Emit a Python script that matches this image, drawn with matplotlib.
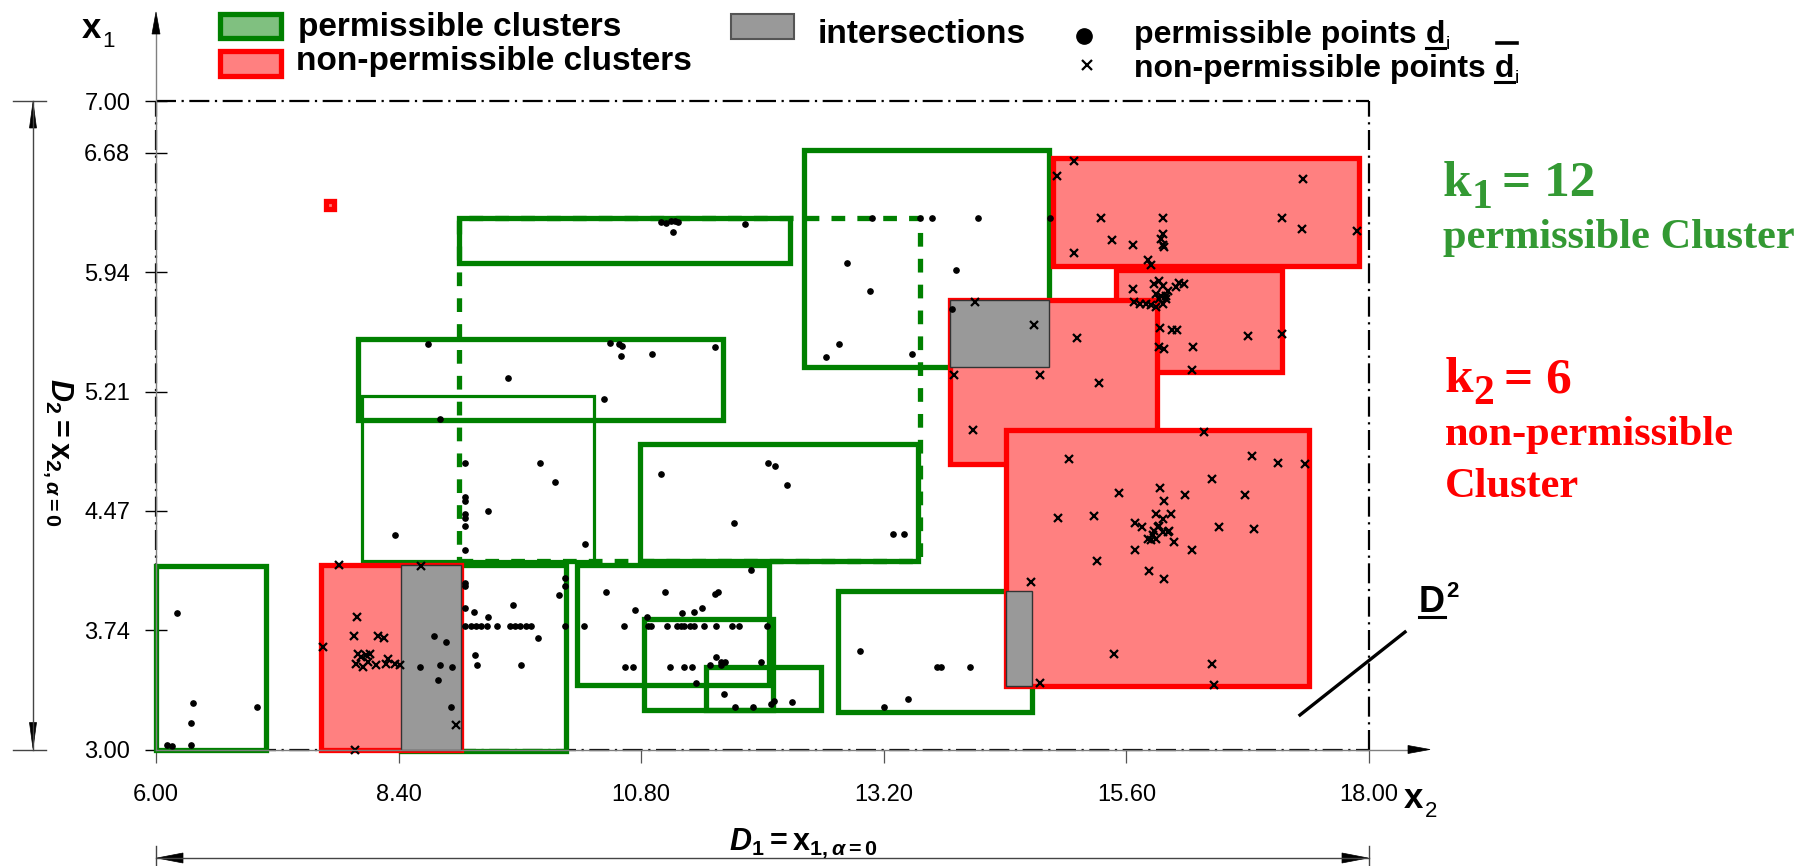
import matplotlib
matplotlib.use("Agg")
import matplotlib.pyplot as plt
from matplotlib.patches import Rectangle, Polygon
from matplotlib.lines import Line2D
from matplotlib import font_manager

W, H, DPI = 1816, 866, 100

installed = {f.name for f in font_manager.fontManager.ttflist}
SANS = "Liberation Sans" if "Liberation Sans" in installed else "DejaVu Sans"
SERIF = "Liberation Serif" if "Liberation Serif" in installed else "DejaVu Serif"

plt.rcParams.update({
    "font.family": SANS,
    "mathtext.fontset": "custom",
    "mathtext.rm": f"{SANS}:bold",
    "mathtext.it": f"{SANS}:italic:bold",
    "mathtext.bf": f"{SANS}:bold",
})

GREEN = "#008000"
RED = "#ff0000"
PINK = "#ff8080"
GRAY = "#999999"
TXT_GREEN = "#339933"

# ---- axis ticks -------------------------------------------------------
x_ticks = [6.00, 8.40, 10.80, 13.20, 15.60, 18.00]
y_ticks = [3.000, 3.736, 4.472, 5.208, 5.944, 6.680, 7.000]
y_tick_labels = ["3.00", "3.74", "4.47", "5.21", "5.94", "6.68", "7.00"]

# ---- clusters (x_min, x_max, y_min, y_max) ----------------------------
perm_clusters = [
    (6.00, 7.09, 3.00, 4.13),
    (8.42, 10.06, 2.99, 4.14),
    (9.00, 12.27, 6.00, 6.28),
    (8.00, 11.61, 5.03, 5.53),
    (10.79, 13.54, 4.16, 4.885),
    (12.41, 14.83, 5.36, 6.70),
    (12.75, 14.67, 3.23, 3.98),
    (10.16, 12.06, 3.40, 4.14),
    (10.83, 12.10, 3.245, 3.805),
    (11.44, 12.58, 3.245, 3.51),
]
perm_clusters_thin = [(8.04, 10.33, 4.16, 5.18)]
perm_clusters_dashed = [(9.00, 13.56, 4.16, 6.28)]

nonperm_clusters = [
    (7.63, 9.02, 3.00, 4.14),
    (14.87, 17.90, 5.98, 6.65),
    (15.50, 17.14, 5.33, 5.96),
    (13.855, 15.90, 4.76, 5.77),
    (14.41, 17.41, 3.39, 4.97),
    (7.68, 7.76, 6.335, 6.385),
]

# ---- permissible points d_i --------------------------------------------
perm_x = [
    6.21, 6.37, 6.35, 7.00, 6.105, 6.155, 6.35,
    8.75, 8.87, 8.61, 8.81, 8.93, 8.79, 8.92,
    9.06, 9.06, 10.05, 10.05, 9.99, 9.53, 9.06, 9.15, 9.28,
    9.06, 9.12, 9.17, 9.22, 9.27, 9.37, 9.50, 9.55, 9.60, 9.66, 9.71, 10.05,
    9.78, 9.16, 9.18, 9.61,
    11.89, 10.45, 11.04, 11.53, 11.56, 10.74, 10.86, 11.20, 11.32, 11.40,
    10.23, 10.63, 10.87, 10.90, 11.06, 11.15, 11.19, 11.22, 11.28, 11.32,
    11.42, 11.54, 11.70, 11.77, 12.04,
    11.54, 11.59, 11.63, 11.59, 11.99, 10.64, 10.72, 11.08, 11.22, 11.30,
    11.48, 11.34, 11.62, 11.73, 11.91, 12.08, 12.11, 12.29,
    12.96, 13.73, 13.77, 14.05, 13.44, 13.20,
    9.06, 9.80, 9.95, 9.06, 9.06, 9.28, 9.06, 9.06, 9.06, 8.36, 10.24, 9.06,
    8.69, 10.49, 10.58, 10.61, 10.60, 10.91, 11.53, 9.48, 10.43, 8.81,
    11.00, 12.05, 12.12, 12.24, 11.72, 13.29, 13.40,
    11.00, 11.05, 11.09, 11.13, 11.16, 11.11, 11.83,
    13.08, 13.56, 13.68, 14.13, 14.84,
    12.84, 13.91, 13.06, 12.76, 12.63, 13.48, 13.87,
]
perm_y = [
    3.84, 3.285, 3.165, 3.26, 3.03, 3.02, 3.03,
    3.70, 3.66, 3.51, 3.52, 3.51, 3.43, 3.26,
    4.03, 4.01, 4.06, 4.01, 3.95, 3.89, 3.87, 3.85, 3.82,
    3.76, 3.76, 3.76, 3.76, 3.76, 3.76, 3.76, 3.76, 3.76, 3.76, 3.76, 3.76,
    3.69, 3.58, 3.52, 3.52,
    4.11, 3.97, 3.97, 3.96, 3.97, 3.86, 3.82, 3.84, 3.85, 3.87,
    3.76, 3.76, 3.76, 3.76, 3.76, 3.76, 3.76, 3.76, 3.76, 3.76,
    3.76, 3.76, 3.76, 3.76, 3.76,
    3.57, 3.54, 3.54, 3.52, 3.54, 3.51, 3.51, 3.51, 3.51, 3.51,
    3.52, 3.41, 3.34, 3.26, 3.26, 3.28, 3.30, 3.29,
    3.61, 3.51, 3.51, 3.51, 3.31, 3.26,
    4.77, 4.77, 4.65, 4.56, 4.53, 4.47, 4.45, 4.43, 4.38, 4.32, 4.27, 4.23,
    5.50, 5.51, 5.50, 5.49, 5.43, 5.44, 5.48, 5.29, 5.16, 5.04,
    4.70, 4.77, 4.75, 4.63, 4.40, 4.33, 4.33,
    6.256, 6.246, 6.262, 6.258, 6.256, 6.194, 6.24,
    6.277, 6.277, 6.277, 6.277, 6.277,
    6.00, 5.96, 5.83, 5.50, 5.42, 5.44, 5.72,
]

# ---- non-permissible points ---------------------------------------------
nonperm_x = [
    7.81, 8.62, 7.99, 7.96, 7.65, 8.20, 8.26, 8.00, 8.03, 8.08, 8.12, 7.98,
    8.05, 8.10, 8.18, 8.30, 8.28, 8.36, 8.41, 8.97, 7.97,
    14.66, 14.75,
    15.08, 14.91, 15.08, 15.35, 15.96, 15.46, 15.67, 15.96, 15.94, 15.96,
    15.97, 15.81, 15.84, 17.35, 17.14, 17.34, 17.88,
    15.67, 15.87, 15.92, 15.96, 16.01, 16.12, 16.17, 16.09, 15.89, 15.94,
    15.99, 15.92, 15.96, 15.68, 15.73, 15.79, 15.84, 15.89, 15.99, 15.93,
    16.05, 16.10, 16.80, 17.14, 15.92, 15.97, 16.26, 16.25,
    14.10, 14.69, 15.11, 13.89, 14.75, 14.08, 15.33,
    15.03, 14.92, 15.28, 15.31, 16.37, 16.84, 17.10, 17.37, 16.45, 15.93,
    16.18, 16.77, 15.53, 15.97, 15.89, 16.04, 15.69, 15.75, 15.87, 15.91,
    15.86, 15.89, 15.84, 15.81, 15.96, 16.01, 16.02, 15.92, 15.96, 16.07,
    16.52, 16.86, 15.69, 16.25, 15.82, 15.97, 15.48, 16.45, 16.47,
]
nonperm_y = [
    4.14, 4.13, 3.82, 3.70, 3.63, 3.70, 3.69, 3.59, 3.57, 3.58, 3.59, 3.53,
    3.51, 3.54, 3.52, 3.56, 3.53, 3.53, 3.52, 3.15, 3.00,
    4.035, 3.41,
    6.63, 6.54, 6.06, 6.28, 6.28, 6.14, 6.11, 6.18, 6.15, 6.11,
    6.10, 6.02, 5.99, 6.52, 6.28, 6.21, 6.20,
    5.84, 5.87, 5.89, 5.86, 5.83, 5.88, 5.87, 5.85, 5.81, 5.80,
    5.78, 5.78, 5.75, 5.76, 5.75, 5.75, 5.74, 5.73, 5.80, 5.60,
    5.59, 5.59, 5.55, 5.56, 5.48, 5.47, 5.48, 5.34,
    5.76, 5.62, 5.54, 5.31, 5.31, 4.97, 5.26,
    4.79, 4.43, 4.44, 4.16, 4.96, 4.81, 4.77, 4.76, 4.67, 4.61,
    4.57, 4.57, 4.58, 4.53, 4.45, 4.45, 4.40, 4.37, 4.35, 4.37,
    4.32, 4.30, 4.29, 4.30, 4.34, 4.34, 4.35, 4.38, 4.42, 4.28,
    4.37, 4.36, 4.23, 4.23, 4.10, 4.05, 3.59, 3.53, 3.40,
]

# ---- figure -------------------------------------------------------------
fig = plt.figure(figsize=(W / DPI, H / DPI), dpi=DPI)
PX_X6, PX_X18 = 156, 1369
PX_Y7, PX_Y3 = 101, 749.5
ax = fig.add_axes([PX_X6 / W, 1 - PX_Y3 / H, (PX_X18 - PX_X6) / W, (PX_Y3 - PX_Y7) / H])
ax.set_xlim(6, 18)
ax.set_ylim(3, 7)
ax.patch.set_alpha(0)
for sp in ax.spines.values():
    sp.set_visible(False)

ax.set_xticks(x_ticks, [f"{v:.2f}" for v in x_ticks])
ax.set_yticks(y_ticks, y_tick_labels)
ax.tick_params(axis="x", direction="out", length=9.5, width=0.9, color="#555555",
               pad=15, labelsize=17)
ax.tick_params(axis="y", direction="inout", length=16, width=1.0, color="black",
               pad=10.5, labelsize=17)


def fx(x):
    return x / W


def fy(y):
    return 1 - y / H


def line_px(xs, ys, **kw):
    fig.add_artist(Line2D([fx(v) for v in xs], [fy(v) for v in ys],
                          transform=fig.transFigure, **kw))


def poly_px(pts, **kw):
    fig.add_artist(Polygon([(fx(a), fy(b)) for a, b in pts], closed=True,
                           transform=fig.transFigure, **kw))


def rect_px(x0, y0, x1, y1, **kw):
    fig.add_artist(Rectangle((fx(x0), fy(y1)), fx(x1) - fx(x0), fy(y0) - fy(y1),
                             transform=fig.transFigure, **kw))


def head(tip, d, length, half, color="black"):
    tx, ty = tip
    dx, dy = d
    bx, by = tx - dx * length, ty - dy * length
    nx, ny = -dy, dx
    poly_px([(tx, ty), (bx + nx * half, by + ny * half), (bx - nx * half, by - ny * half)],
            facecolor=color, edgecolor=color, lw=0.5)


# gray coordinate axes with arrows
line_px([PX_X6, PX_X6], [PX_Y3, 30], color="#808080", lw=1.0, zorder=1)
head((PX_X6, 12), (0, -1), 22, 4)
line_px([PX_X6, 1415], [PX_Y3, PX_Y3], color="#808080", lw=1.0, zorder=1)
head((1430, PX_Y3), (1, 0), 22, 4)

# dash-dot frame of the design space
frame_style = dict(color="black", lw=1.6, ls=(0, (9, 2.5, 1, 2.5)), clip_on=False, zorder=3)
ax.plot([6, 18], [7, 7], **frame_style)
ax.plot([18, 18], [3, 7], **frame_style)
ax.plot([6, 18], [3, 3], **frame_style)
ax.plot([6, 6], [3, 7], **frame_style)

# clusters
for (x0, x1, y0, y1) in perm_clusters_dashed:
    ax.add_patch(Rectangle((x0, y0), x1 - x0, y1 - y0, fill=False, edgecolor=GREEN,
                           lw=3.8, ls=(0, (2.6, 2.3)), zorder=4, clip_on=False))
for (x0, x1, y0, y1) in perm_clusters_thin:
    ax.add_patch(Rectangle((x0, y0), x1 - x0, y1 - y0, fill=False, edgecolor=GREEN,
                           lw=2.3, zorder=5, clip_on=False))
for (x0, x1, y0, y1) in perm_clusters:
    ax.add_patch(Rectangle((x0, y0), x1 - x0, y1 - y0, fill=False, edgecolor=GREEN,
                           lw=3.8, joinstyle="miter", zorder=5, clip_on=False))
for (x0, x1, y0, y1) in nonperm_clusters:
    ax.add_patch(Rectangle((x0, y0), x1 - x0, y1 - y0, facecolor=PINK, edgecolor=RED,
                           lw=3.8, joinstyle="miter", zorder=6, clip_on=False))

# overlaps between permissible and non-permissible clusters
for (a0, a1, b0, b1) in nonperm_clusters:
    for (c0, c1, d0, d1) in perm_clusters:
        ix0, ix1 = max(a0, c0), min(a1, c1)
        iy0, iy1 = max(b0, d0), min(b1, d1)
        if ix1 > ix0 and iy1 > iy0:
            ax.add_patch(Rectangle((ix0, iy0), ix1 - ix0, iy1 - iy0, facecolor=GRAY,
                                   edgecolor="#333333", lw=1.0, zorder=7, clip_on=False))

ax.plot(perm_x, perm_y, "o", ms=3.8, color="black", ls="none", zorder=10, clip_on=False)
ax.plot(nonperm_x, nonperm_y, "x", ms=6.3, mew=1.6, color="black", ls="none",
        zorder=10, clip_on=False)

# ---- text helpers --------------------------------------------------------
renderer = fig.canvas.get_renderer()


def text_run(x, y, parts):
    cx = x
    boxes = []
    for s, opts in parts:
        opts = dict(opts)
        dy = opts.pop("dy", 0)
        cx += opts.pop("gap", 0)
        t = fig.text(fx(cx), fy(y + dy), s, ha="left", va="baseline", **opts)
        bb = t.get_window_extent(renderer)
        boxes.append(bb)
        cx = bb.x1
    return boxes


# legend
rect_px(220, 14, 281, 38, facecolor="#80c080", edgecolor=GREEN, lw=3.8)
rect_px(220, 51, 281, 76, facecolor=PINK, edgecolor=RED, lw=3.8)
rect_px(731, 14, 794, 39, facecolor=GRAY, edgecolor="#555555", lw=1.5)
LEG = dict(size=24, weight="bold", color="black")
fig.text(fx(298), fy(36), "permissible clusters", ha="left", va="baseline", **LEG)
fig.text(fx(296), fy(70), "non-permissible clusters", ha="left", va="baseline", **LEG)
fig.text(fx(818), fy(43), "intersections", ha="left", va="baseline", **LEG)

fig.add_artist(Line2D([fx(1084)], [fy(36)], marker="o", ms=11, color="black",
                      transform=fig.transFigure))
fig.add_artist(Line2D([fx(1087)], [fy(65)], marker="x", ms=7, mew=1.6, color="black",
                      transform=fig.transFigure))

LEG_R = dict(size=23, weight="bold", color="black")
for row_y, label in ((43, "permissible points"), (77, "non-permissible points")):
    b = text_run(1134, row_y, [(label, LEG_R),
                               ("d", dict(LEG_R, gap=9)),
                               ("i", dict(size=14, weight="normal", color="black", dy=6, gap=1))])
    d_box = b[1]
    line_px([d_box.x0, d_box.x1], [row_y + 5, row_y + 5], color="black", lw=2.2)
    if label.startswith("non"):
        line_px([d_box.x0 + 2, d_box.x1 + 3], [43, 43], color="black", lw=2.6)

# axis names
text_run(82, 38, [("x", dict(size=25, weight="bold")),
                  ("1", dict(size=16, dy=9, gap=1))])
text_run(1404, 808, [("x", dict(size=25, weight="bold")),
                     ("2", dict(size=16, dy=9, gap=1))])

fig.text(fx(803), fy(850), r"$\mathit{D}_1 = \mathrm{x}_{1,\alpha=0}$",
         ha="center", va="baseline", size=22)
fig.text(fx(58), fy(452), r"$\mathit{D}_2 = \mathrm{x}_{2,\alpha=0}$",
         ha="center", va="center", size=22, rotation=270)

# dimension arrows
line_px([33, 33], [PX_Y7, PX_Y3], color="#444444", lw=1.0)
line_px([13, 46], [PX_Y7, PX_Y7], color="#444444", lw=1.0)
line_px([13, 46], [PX_Y3, PX_Y3], color="#444444", lw=1.0)
head((33, PX_Y7 + 1), (0, -1), 26, 3.5)
head((33, PX_Y3 - 1), (0, 1), 26, 3.5)

line_px([PX_X6, PX_X18], [858, 858], color="#444444", lw=1.0)
line_px([PX_X6, PX_X6], [846, 866], color="#444444", lw=1.0)
line_px([PX_X18, PX_X18], [846, 866], color="#444444", lw=1.0)
head((PX_X6 + 1, 858), (-1, 0), 26, 5)
head((PX_X18 - 1, 858), (1, 0), 26, 5)

# boundary segment D^2
line_px([1300, 1405], [715, 632], color="black", lw=2.4)
b = text_run(1419, 612, [("D", dict(size=26, weight="bold")),
                         ("2", dict(size=16, weight="bold", dy=-15, gap=1))])
line_px([b[0].x0, b[0].x1], [617, 617], color="black", lw=2.2)

# cluster counts
SG = dict(family=SERIF, weight="bold", color=TXT_GREEN)
SR = dict(family=SERIF, weight="bold", color=RED)
text_run(1443, 196, [("k", dict(SG, size=37)), ("1", dict(SG, size=30, dy=12)),
                     ("= 12", dict(SG, size=37, gap=10))])
fig.text(fx(1443), fy(248), "permissible Cluster", ha="left", va="baseline", size=30.5, **SG)
text_run(1445, 392, [("k", dict(SR, size=37)), ("2", dict(SR, size=30, dy=12)),
                     ("= 6", dict(SR, size=37, gap=10))])
fig.text(fx(1445), fy(445), "non-permissible", ha="left", va="baseline", size=30.5, **SR)
fig.text(fx(1445), fy(497), "Cluster", ha="left", va="baseline", size=30.5, **SR)

fig.savefig("out.png", dpi=DPI)
